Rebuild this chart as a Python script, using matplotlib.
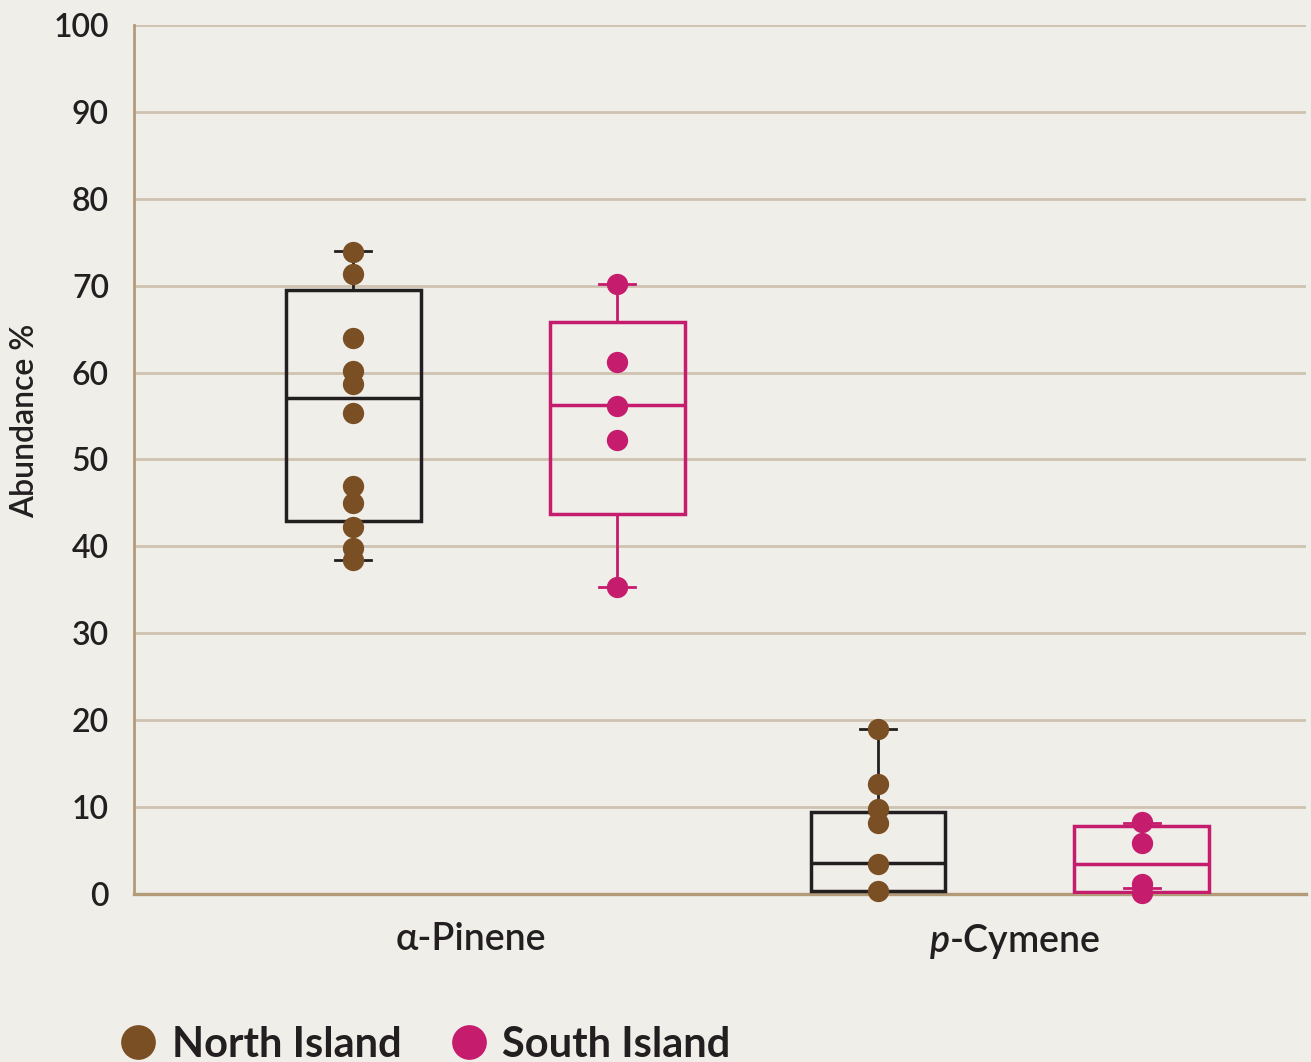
import matplotlib
matplotlib.use("Agg")
import matplotlib.pyplot as plt
from matplotlib.lines import Line2D
from matplotlib.transforms import ScaledTranslation

# Compounds and island groups
compounds = ["α-Pinene", "$\\mathit{p}$-Cymene"]
groups = ["North Island", "South Island"]

# Individual sample abundances (%)
north_pinene = [73.9, 71.3, 64.0, 60.2, 58.7, 55.4, 47.0, 45.0, 42.2, 39.8, 38.4]
south_pinene = [70.2, 61.2, 56.2, 52.2, 35.3]
north_cymene = [19.0, 12.7, 9.8, 8.2, 3.5, 0.3]
south_cymene = [8.3, 5.9, 1.1, 0.1]

# Box summary per compound/group: whisker low, Q1, median, Q3, whisker high
north_stats = {
    "whislo": [38.4, 0.3],
    "q1": [42.9, 0.3],
    "med": [57.1, 3.6],
    "q3": [69.5, 9.4],
    "whishi": [74.0, 19.0],
}
south_stats = {
    "whislo": [35.3, 0.7],
    "q1": [43.7, 0.2],
    "med": [56.3, 3.5],
    "q3": [65.8, 7.8],
    "whishi": [70.2, 8.2],
}

y_ticks = [0, 10, 20, 30, 40, 50, 60, 70, 80, 90, 100]

BG = "#EFEEE9"
GRID = "#CFC2B1"
SPINE = "#B39B79"
TEXT = "#231F20"
BROWN = "#7B4F24"
MAGENTA = "#C51C6E"
BOX_DARK = "#231F20"

plt.rcParams["font.family"] = ["Lato", "DejaVu Sans"]
plt.rcParams["mathtext.fontset"] = "custom"
plt.rcParams["mathtext.it"] = "Lato:italic:semibold"
plt.rcParams["mathtext.rm"] = "Lato:semibold"

fig = plt.figure(figsize=(13.11, 10.62), dpi=100, facecolor=BG)
ax = fig.add_axes([0.1022, 0.1582, 0.894, 0.8183], facecolor=BG)

offset = 0.2514
box_w = 0.257
cap_w = 0.069

def draw_group(stats, values_list, sign, edge, dot):
    bstats = []
    for i in range(len(compounds)):
        bstats.append({
            "whislo": stats["whislo"][i], "q1": stats["q1"][i],
            "med": stats["med"][i], "q3": stats["q3"][i],
            "whishi": stats["whishi"][i], "fliers": [],
        })
    pos = [i + sign * offset for i in range(len(compounds))]
    ax.bxp(bstats, positions=pos, widths=box_w, showfliers=False,
           patch_artist=True, capwidths=cap_w,
           boxprops=dict(facecolor="none", edgecolor=edge, linewidth=2.5),
           medianprops=dict(color=edge, linewidth=2.5),
           whiskerprops=dict(color=edge, linewidth=2.0),
           capprops=dict(color=edge, linewidth=2.0),
           zorder=3)
    for p, vals in zip(pos, values_list):
        ax.scatter([p] * len(vals), vals, s=235, color=dot, zorder=4,
                   linewidths=0, clip_on=False)

draw_group(north_stats, [north_pinene, north_cymene], -1, BOX_DARK, BROWN)
draw_group(south_stats, [south_pinene, south_cymene], 1, MAGENTA, MAGENTA)

ax.set_xlim(-0.669, 1.564)
ax.set_ylim(0, 100)
ax.set_yticks(y_ticks)
ax.set_yticklabels([str(v) for v in y_ticks])
ax.set_xticks(range(len(compounds)))
ax.set_xticklabels(compounds)

for v in y_ticks[1:]:
    ax.axhline(v, color=GRID, linewidth=2.0, zorder=1)

for side in ["top", "right"]:
    ax.spines[side].set_visible(False)
ax.spines["left"].set_color(SPINE)
ax.spines["left"].set_linewidth(2.0)
ax.spines["bottom"].set_color(SPINE)
ax.spines["bottom"].set_linewidth(2.4)
ax.spines["bottom"].set_zorder(2)

ax.tick_params(axis="y", length=0, pad=18, labelsize=23, labelcolor=TEXT)
ax.tick_params(axis="x", length=0, pad=20, labelsize=27, labelcolor=TEXT)
for lab in ax.get_yticklabels() + ax.get_xticklabels():
    lab.set_fontweight("semibold")

# nudge category labels horizontally
shifts = [-0.14, 0.05]
for lab, dx in zip(ax.get_xticklabels(), shifts):
    lab.set_transform(lab.get_transform() + ScaledTranslation(dx, 0, fig.dpi_scale_trans))

fig.text(25 / 1311, 1 - 421 / 1062, "Abundance %", rotation=90, ha="center",
         va="center", fontsize=23, color=TEXT, fontweight="semibold")

handles = [
    Line2D([], [], marker="o", linestyle="none", markersize=25,
           markerfacecolor=BROWN, markeredgewidth=0, label=groups[0]),
    Line2D([], [], marker="o", linestyle="none", markersize=25,
           markerfacecolor=MAGENTA, markeredgewidth=0, label=groups[1]),
]
leg = fig.legend(handles=handles, loc="lower left", bbox_to_anchor=(0.061, -0.037),
                 ncol=2, frameon=False, handletextpad=0.3, columnspacing=1.12,
                 handlelength=1.0, prop={"size": 30, "weight": "bold"})
for t in leg.get_texts():
    t.set_color(TEXT)

fig.savefig("out.png", dpi=100, facecolor=BG)
